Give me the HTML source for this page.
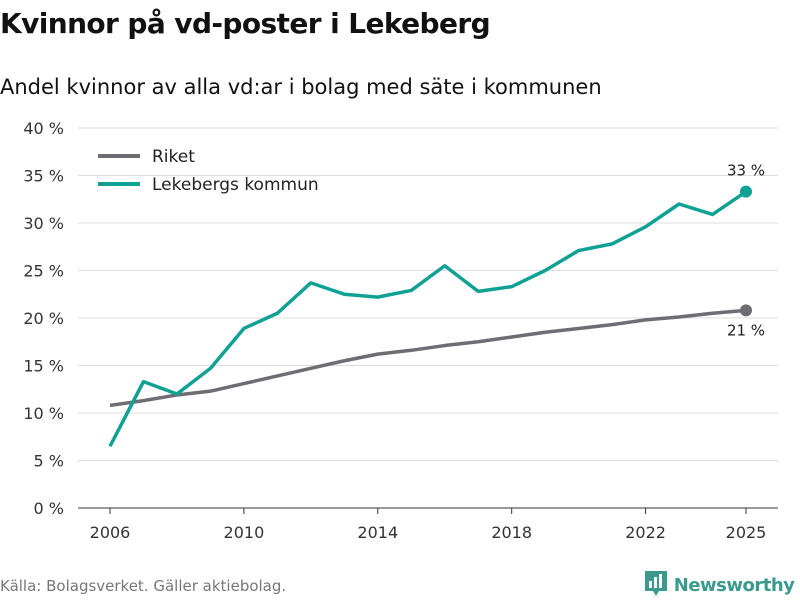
<!DOCTYPE html>
<html><head><meta charset="utf-8"><style>
body{margin:0;width:800px;height:600px;background:#fff;font-family:"DejaVu Sans","Liberation Sans",sans-serif;overflow:hidden;position:relative}
.t{position:absolute;left:0;top:7px;font-size:28px;font-weight:bold;color:#111;letter-spacing:-0.6px;white-space:nowrap}
.s{position:absolute;left:0;top:75px;font-size:21px;color:#111;white-space:nowrap}
.src{position:absolute;left:0;top:577px;font-size:15px;color:#777;white-space:nowrap}
.logo{position:absolute;left:644px;top:569px;font-size:18px;letter-spacing:-0.5px;font-weight:bold;color:#3a9a8e;white-space:nowrap}
</style></head><body>
<div class="t">Kvinnor på vd-poster i Lekeberg</div>
<div class="s">Andel kvinnor av alla vd:ar i bolag med säte i kommunen</div>
<svg id="c" width="800" height="600" style="position:absolute;left:0;top:0"></svg>
<div class="src">Källa: Bolagsverket. Gäller aktiebolag.</div>
<div class="logo"><svg width="24" height="28" style="vertical-align:-6px"><path d="M1 2h22v20h-8l-3 5-3-5H1z" fill="#3a9a8e"/><rect x="5" y="12" width="3" height="7" fill="#fff"/><rect x="10" y="8" width="3" height="11" fill="#fff"/><rect x="15" y="5" width="3" height="14" fill="#fff"/></svg> Newsworthy</div>
<script>
const years=[2006,2007,2008,2009,2010,2011,2012,2013,2014,2015,2016,2017,2018,2019,2020,2021,2022,2023,2024,2025];
const riket=[10.8,11.3,11.9,12.3,13.1,13.9,14.7,15.5,16.2,16.6,17.1,17.5,18.0,18.5,18.9,19.3,19.8,20.1,20.5,20.8];
const lekeberg=[6.5,13.3,12.0,14.7,18.9,20.5,23.7,22.5,22.2,22.9,25.5,22.8,23.3,25.0,27.1,27.8,29.6,32.0,30.9,33.3];
const yTicks=[0,5,10,15,20,25,30,35,40];
const xTicks=[2006,2010,2014,2018,2022,2025];
const ns="http://www.w3.org/2000/svg",svg=document.getElementById('c');
const x=v=>110+(v-2006)*(636/19), y=v=>508-v*9.5;
function mk(t,a,txt){const e=document.createElementNS(ns,t);for(const k in a)e.setAttribute(k,a[k]);if(txt!=null)e.textContent=txt;svg.appendChild(e);return e;}
yTicks.forEach(v=>{
 const l=mk('line',{x1:78,x2:778,y1:y(v),y2:y(v),stroke:v?'#ddd':'#333','stroke-width':1});
 
 
 const t=mk('text',{x:64,y:y(v)+6,'text-anchor':'end','font-size':16,fill:'#333'},v+' %');
 
 
});
xTicks.forEach(v=>{
 mk('line',{x1:x(v),x2:x(v),y1:508,y2:514,stroke:'#333'});
 const t=mk('text',{x:x(v),y:538,'text-anchor':'middle','font-size':16,fill:'#333'},v);
 
 
});
function series(d,col,name){
 const p=mk('polyline',{points:d.map((v,i)=>x(years[i])+','+y(v)).join(' '),fill:'none',stroke:col,'stroke-width':3.5,'stroke-linejoin':'round'});
 
 
 const n=d.length-1;
 const c=mk('circle',{cx:x(years[n]),cy:y(d[n]),r:6,fill:col});
 
 
}
series(riket,'#6f6d73','riket');
series(lekeberg,'#10a195','lekeberg');
const n=years.length-1;
let t=mk('text',{x:x(years[n]),y:y(lekeberg[n])-16,'text-anchor':'middle','font-size':15,fill:'#222'},Math.round(lekeberg[n])+' %');

t=mk('text',{x:x(years[n]),y:y(riket[n])+25,'text-anchor':'middle','font-size':15,fill:'#222'},Math.round(riket[n])+' %');

[['Riket','#6f6d73',156],['Lekebergs kommun','#10a195',184]].forEach(([l,c,yy])=>{
 const ln=mk('line',{x1:98,x2:140,y1:yy,y2:yy,stroke:c,'stroke-width':4});
 
 const tt=mk('text',{x:152,y:yy+6,'font-size':17,fill:'#222'},l);
 
});
</script>
</body></html>
